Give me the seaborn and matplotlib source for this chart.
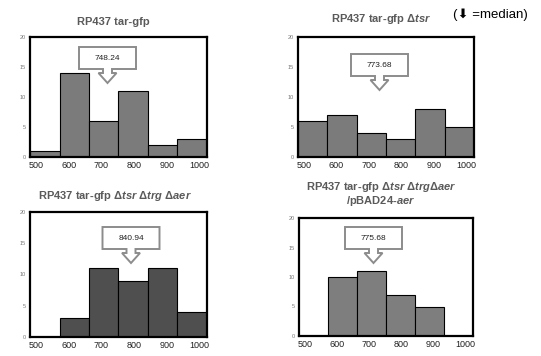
import numpy as np
import pandas as pd
import matplotlib
matplotlib.use("Agg")
import matplotlib.pyplot as plt
from matplotlib.patches import Polygon
import seaborn as sns

# bins (fluorescence) and cell counts per strain
BINS = ["500", "600", "700", "800", "900", "1000"]
COUNTS_WT = [1, 14, 6, 11, 2, 3]
COUNTS_TSR = [6, 7, 4, 3, 8, 5]
COUNTS_TRIPLE = [0, 3, 11, 9, 11, 4]
COUNTS_RESCUE = [0, 10, 11, 7, 5, 0]
MEDIANS = ["748.24", "773.68", "840.94", "775.68"]
TITLES = [
    "RP437 tar-gfp",
    r"RP437 tar-gfp Δ$tsr$",
    r"RP437 tar-gfp Δ$tsr$ Δ$trg$ Δ$aer$",
    "RP437 tar-gfp Δ$tsr$ Δ$trg$Δ$aer$\n/pBAD24-$aer$",
]
YTICKS = [0, 5, 10, 15, 20]

sns.set_style("white")
plt.rcParams["font.family"] = ["Liberation Sans", "DejaVu Sans"]
plt.rcParams["mathtext.fontset"] = "custom"
plt.rcParams["mathtext.it"] = "Liberation Sans:bold:italic"
plt.rcParams["mathtext.rm"] = "Liberation Sans:bold"

W, H = 541, 356
fig = plt.figure(figsize=(W / 100, H / 100), dpi=100)

# axes boxes in pixels: left, top, right, bottom
boxes = [(30, 37, 207, 157), (298, 37, 474, 157), (30, 212, 207, 337), (299, 218, 473, 336)]
colors = ["#7b7b7b", "#7b7b7b", "#4f4f4f", "#7e7e7e"]
callouts = [(107.5, 47), (379.5, 54), (131, 227), (373.5, 227)]  # box centre x, box top y (px)
title_pos = [(113, 22), (381, 19), (38, 196), (381, 194)]
all_counts = [COUNTS_WT, COUNTS_TSR, COUNTS_TRIPLE, COUNTS_RESCUE]


def callout(ax, box, cx, top, text):
    l, t, r, b = box
    aw, ah = r - l, b - t
    bw, bh = 57, 22
    sw, sl, hw, hl = 4.5, 4, 9, 10
    pts_px = [
        (cx - bw / 2, top), (cx + bw / 2, top), (cx + bw / 2, top + bh),
        (cx + sw, top + bh), (cx + sw, top + bh + sl), (cx + hw, top + bh + sl),
        (cx, top + bh + sl + hl), (cx - hw, top + bh + sl), (cx - sw, top + bh + sl),
        (cx - sw, top + bh), (cx - bw / 2, top + bh),
    ]
    pts = [((x - l) / aw, (b - y) / ah) for x, y in pts_px]
    ax.add_patch(Polygon(pts, closed=True, transform=ax.transAxes, facecolor="white",
                         edgecolor="#8c8c8c", lw=1.4, zorder=5, clip_on=False))
    ax.text((cx - l) / aw, (b - top - bh / 2) / ah, text, transform=ax.transAxes,
            ha="center", va="center", fontsize=6, color="#222222", zorder=6)


for i, counts in enumerate(all_counts):
    l, t, r, b = boxes[i]
    ax = fig.add_axes([l / W, 1 - b / H, (r - l) / W, (b - t) / H])
    df = pd.DataFrame({"bin": BINS, "count": counts})
    sns.barplot(data=df, x="bin", y="count", color=colors[i], width=1.0,
                edgecolor="black", linewidth=0.8, saturation=1, ax=ax)
    ax.set_xlim(-0.5, 5.5)
    ax.set_ylim(0, 20)
    ax.set_xticks(np.linspace(-0.3, 5.25, 6))
    ax.set_xticklabels(BINS, fontsize=6.5, color="#222222")
    ax.set_yticks(YTICKS)
    ax.set_yticklabels(YTICKS, fontsize=4, color="#777777")
    ax.tick_params(length=0, pad=3)
    ax.set_xlabel("")
    ax.set_ylabel("")
    for s in ax.spines.values():
        s.set_color("black")
        s.set_linewidth(1.6)
    callout(ax, boxes[i], callouts[i][0], callouts[i][1], MEDIANS[i])
    tx, ty = title_pos[i]
    ha = "left" if i == 2 else "center"
    fig.text(tx / W, 1 - ty / H, TITLES[i], ha=ha, va="center", fontsize=8,
             fontweight="bold", color="#5a5a5a", linespacing=1.1)

fig.text(453 / W, 1 - 15 / H, "(\u2b07 =median)", ha="left", va="center", fontsize=9.5,
         color="black", family=["Liberation Sans", "DejaVu Sans"])

fig.savefig("out.png", dpi=100)
